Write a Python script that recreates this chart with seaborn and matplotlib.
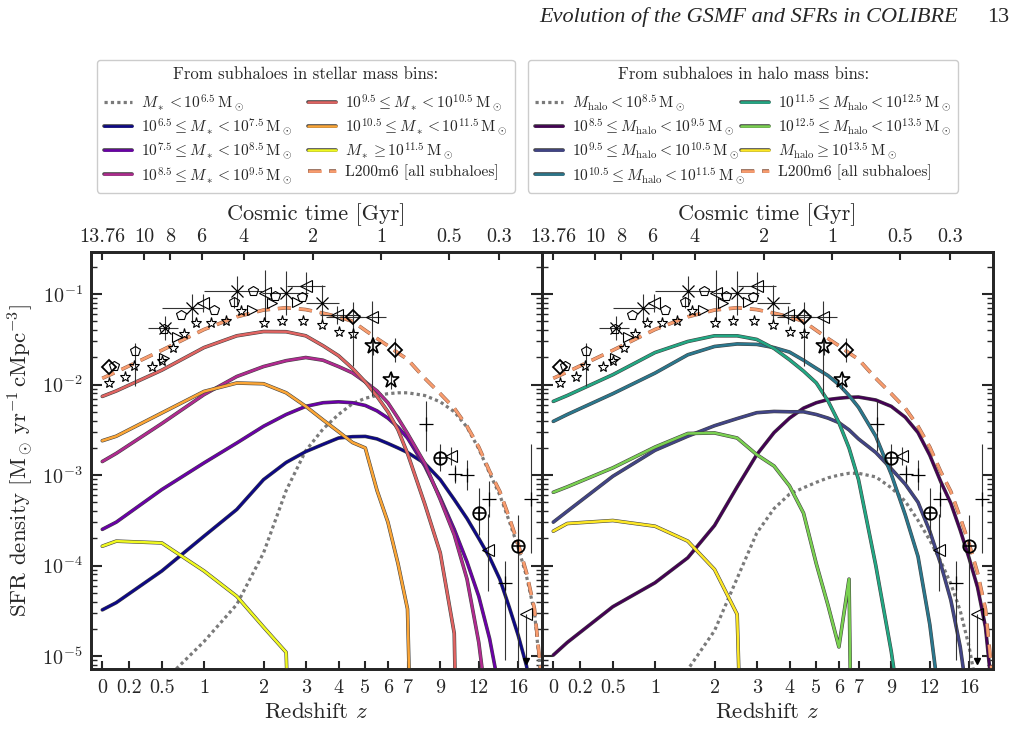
import numpy as np
import matplotlib
matplotlib.use("Agg")
import matplotlib.pyplot as plt
import matplotlib.patheffects as pe
import seaborn as sns

# ---------------- data ----------------
Z_SNAP = [0, 0.1, 0.5, 1, 1.5, 2, 2.5, 3, 3.5, 4, 4.5, 5, 5.5, 6, 6.5, 7,
          8, 9, 10, 11, 12, 13, 14, 15, 16, 17, 18, 19]

# log10 SFR density [Msun/yr/cMpc^3]; -12 marks "no star formation" (falls off the axis)
LOG_ALL = [-1.93, -1.86, -1.62, -1.39, -1.25, -1.175, -1.15, -1.17, -1.21, -1.25, -1.30, -1.40, -1.49, -1.57,
           -1.65, -1.72, -1.93, -2.10, -2.26, -2.46, -2.69, -2.96, -3.18, -3.47, -3.76, -4.08, -4.48, -5.30]

# stellar-mass bins (left panel)
LOG_MS_LT65 = [-5.90, -5.77, -5.30, -4.84, -4.43, -3.86, -3.17, -2.73, -2.49, -2.33, -2.21, -2.15, -2.12, -2.10,
               -2.09, -2.09, -2.12, -2.19, -2.30, -2.47, -2.71, -2.98, -3.22, -3.51, -3.80, -4.12, -4.52, -5.35]
LOG_MS_65_75 = [-4.49, -4.41, -4.06, -3.675, -3.38, -3.05, -2.86, -2.74, -2.66, -2.59, -2.575, -2.572, -2.60, -2.65,
                -2.70, -2.75, -2.87, -3.05, -3.27, -3.48, -3.70, -3.91, -4.15, -4.46, -4.77, -5.11, -5.60, -6.20]
LOG_MS_75_85 = [-3.60, -3.52, -3.16, -2.865, -2.645, -2.46, -2.33, -2.24, -2.20, -2.19, -2.20, -2.23, -2.29, -2.37,
                -2.47, -2.59, -2.90, -3.25, -3.60, -3.96, -4.34, -4.81, -5.40, -6.00, -6.60, -7.20, -7.80, -8.40]
LOG_MS_85_95 = [-2.85, -2.76, -2.43, -2.11, -1.91, -1.80, -1.735, -1.70, -1.73, -1.80, -1.87, -1.97, -2.07, -2.20,
                -2.37, -2.54, -2.87, -3.27, -3.66, -4.15, -4.85, -5.80, -12, -12, -12, -12, -12, -12]
LOG_MS_95_105 = [-2.13, -2.07, -1.84, -1.59, -1.46, -1.413, -1.415, -1.46, -1.57, -1.68, -1.82, -1.97, -2.13, -2.30,
                 -2.50, -2.76, -3.32, -3.86, -4.75, -12, -12, -12, -12, -12, -12, -12, -12, -12]
LOG_MS_105_115 = [-2.62, -2.57, -2.313, -2.075, -1.982, -1.99, -2.09, -2.24, -2.39, -2.52, -2.64, -2.70, -3.17, -3.52,
                  -3.98, -4.48, -12, -12, -12, -12, -12, -12, -12, -12, -12, -12, -12, -12]
LOG_MS_GE115 = [-3.786, -3.73, -3.75, -4.06, -4.34, -4.68, -4.96, -12, -12, -12, -12, -12, -12, -12,
                -12, -12, -12, -12, -12, -12, -12, -12, -12, -12, -12, -12, -12, -12]

# halo-mass bins (right panel)
LOG_MH_LT85 = [-7.0, -6.8, -6.3, -5.7, -5.15, -4.72, -4.14, -3.64, -3.37, -3.21, -3.14, -3.08, -3.03, -3.00,
               -2.98, -2.98, -3.02, -3.14, -3.29, -3.50, -3.72, -3.95, -4.20, -4.50, -4.90, -5.40, -6.00, -6.60]
LOG_MH_85_95 = [-4.99, -4.85, -4.455, -4.19, -3.914, -3.557, -3.13, -2.774, -2.53, -2.37, -2.26, -2.20, -2.165, -2.15,
                -2.14, -2.137, -2.17, -2.24, -2.36, -2.53, -2.78, -3.07, -3.31, -3.61, -3.92, -4.24, -4.68, -5.50]
LOG_MH_95_105 = [-3.52, -3.40, -3.013, -2.726, -2.57, -2.454, -2.375, -2.31, -2.296, -2.30, -2.30, -2.33, -2.37, -2.42,
                 -2.50, -2.60, -2.75, -2.93, -3.10, -3.30, -3.62, -3.98, -4.38, -4.90, -5.60, -6.30, -7.00, -7.70]
LOG_MH_105_115 = [-2.406, -2.33, -2.10, -1.872, -1.67, -1.578, -1.55, -1.555, -1.59, -1.64, -1.73, -1.82, -1.90, -2.00,
                  -2.12, -2.25, -2.57, -2.99, -3.44, -3.90, -4.65, -5.60, -6.50, -7.40, -8.30, -9.20, -10.1, -11.0]
LOG_MH_115_125 = [-2.185, -2.12, -1.89, -1.645, -1.523, -1.46, -1.46, -1.50, -1.60, -1.725, -1.85, -1.98, -2.18, -2.42,
                  -2.70, -3.05, -4.00, -4.95, -6.0, -7.0, -8.0, -9.0, -10.0, -11.0, -12, -12, -12, -12]
LOG_MH_125_135 = [-3.19, -3.13, -2.92, -2.69, -2.54, -2.534, -2.59, -2.774, -2.90, -3.12, -3.42, -3.98, -4.44, -4.90,
                  -4.15, -12, -12, -12, -12, -12, -12, -12, -12, -12, -12, -12, -12, -12]
LOG_MH_GE135 = [-3.62, -3.535, -3.502, -3.565, -3.73, -4.043, -4.54, -12, -12, -12, -12, -12, -12, -12,
                -12, -12, -12, -12, -12, -12, -12, -12, -12, -12, -12, -12, -12, -12]

# observational compilation (same on both panels)
OBS_STAR_Z = [0.05, 0.17, 0.24, 0.40, 0.50, 0.62, 0.74, 0.90, 1.10, 1.33, 1.58, 2.0, 2.41, 2.93, 3.46, 4.0, 4.53]
OBS_STAR_LOG = [-1.98, -1.91, -1.79, -1.81, -1.74, -1.59, -1.44, -1.32, -1.32, -1.30, -1.19, -1.32, -1.30, -1.30,
                -1.34, -1.42, -1.44]
OBS_BIGSTAR_Z = [5.33, 6.15]
OBS_BIGSTAR_LOG = [-1.57, -1.95]
OBS_BIGSTAR_ERR = [0.10, 0.10]
OBS_PENT_Z = [0.08, 0.25, 0.52, 0.71, 1.14, 1.46, 1.80, 2.24, 2.89]
OBS_PENT_LOG = [-1.79, -1.63, -1.39, -1.23, -1.17, -1.09, -0.96, -1.02, -1.03]
OBS_PENT_LO = [0.0, 0.39, 0.0, 0.0, 0.0, 0.06, 0.0, 0.0, 0.0]
OBS_PENT_HI = [0.0, 0.09, 0.0, 0.0, 0.0, 0.06, 0.0, 0.0, 0.0]
OBS_CROSS_Z = [0.53, 0.84, 1.5, 2.49, 3.46]
OBS_CROSS_LOG = [-1.375, -1.155, -0.964, -0.989, -1.093]
OBS_CROSS_ZLO = [0.37, 0.5, 1.0, 1.96, 3.0]
OBS_CROSS_ZHI = [0.68, 1.0, 1.96, 3.07, 4.0]
OBS_CROSS_ERR = [0.13, 0.16, 0.16, 0.24, 0.20]
OBS_LTRI_Z = [0.99, 2.03, 3.02, 3.94, 5.27, 9.75, 12.8, 16.9]
OBS_LTRI_LOG = [-1.10, -0.99, -0.905, -1.23, -1.254, -2.79, -3.83, -4.54]
OBS_LTRI_ZLO = [0.99, 2.03, 2.51, 3.4, 4.5, 9.75, 12.8, 16.9]
OBS_LTRI_ZHI = [0.99, 2.03, 3.56, 4.8, 5.9, 9.75, 12.8, 16.9]
OBS_LTRI_LO = [0.10, 0.31, 0.15, 0.10, 0.87, 0.10, 0.45, 0.52]
OBS_LTRI_HI = [0.10, 0.26, 0.15, 0.10, 0.18, 0.10, 0.40, 0.0]
OBS_RTRI_Z = [0.52, 0.66, 1.77, 2.17, 2.76]
OBS_RTRI_LOG = [-1.71, -1.475, -1.173, -1.093, -1.082]
OBS_DIAM_Z = [0.05, 4.53, 6.35]
OBS_DIAM_LOG = [-1.80, -1.247, -1.615]
OBS_DIAM_ZLO = [0.05, 3.6, 6.35]
OBS_DIAM_ZHI = [0.05, 4.9, 6.35]
OBS_DIAM_LO = [0.0, 0.55, 0.13]
OBS_DIAM_HI = [0.0, 0.16, 0.13]
OBS_OPLUS_Z = [9.0, 12.0, 16.0]
OBS_OPLUS_LOG = [-2.81, -3.42, -3.785]
OBS_OPLUS_LO = [0.15, 0.24, 1.30]
OBS_OPLUS_HI = [0.15, 0.28, 0.34]
OBS_PLUS_Z = [8.05, 10.05, 10.97, 12.9, 14.5, 17.6]
OBS_PLUS_LOG = [-2.44, -2.99, -3.00, -3.26, -4.19, -3.26]
OBS_PLUS_LO = [0.29, 0.10, 0.17, 0.20, 0.85, 0.60]
OBS_PLUS_HI = [0.26, 0.10, 0.17, 0.20, 0.24, 0.60]
OBS_UL_Z = [16.9]
OBS_UL_LOG = [-5.06]

# axes ticks
Z_TICKS = [0, 0.2, 0.5, 1, 2, 3, 4, 5, 6, 7, 9, 12, 16]
Z_TICK_LABELS = ["0", "0.2", "0.5", "1", "2", "3", "4", "5", "6", "7", "9", "12", "16"]
TIME_TICKS_GYR = [13.76, 10, 8, 6, 4, 2, 1, 0.5, 0.3]
TIME_TICK_LABELS = ["13.76", "10", "8", "6", "4", "2", "1", "0.5", "0.3"]
H0, OMEGA_M = 68.1, 0.306

LEFT_LABELS = [
    r"$M_* < 10^{6.5}\,\mathrm{M}_\odot$",
    r"$10^{6.5} \leq M_* < 10^{7.5}\,\mathrm{M}_\odot$",
    r"$10^{7.5} \leq M_* < 10^{8.5}\,\mathrm{M}_\odot$",
    r"$10^{8.5} \leq M_* < 10^{9.5}\,\mathrm{M}_\odot$",
    r"$10^{9.5} \leq M_* < 10^{10.5}\,\mathrm{M}_\odot$",
    r"$10^{10.5} \leq M_* < 10^{11.5}\,\mathrm{M}_\odot$",
    r"$M_* \geq 10^{11.5}\,\mathrm{M}_\odot$",
    "L200m6 [all subhaloes]",
]
RIGHT_LABELS = [
    r"$M_\mathrm{halo} < 10^{8.5}\,\mathrm{M}_\odot$",
    r"$10^{8.5} \leq M_\mathrm{halo} < 10^{9.5}\,\mathrm{M}_\odot$",
    r"$10^{9.5} \leq M_\mathrm{halo} < 10^{10.5}\,\mathrm{M}_\odot$",
    r"$10^{10.5} \leq M_\mathrm{halo} < 10^{11.5}\,\mathrm{M}_\odot$",
    r"$10^{11.5} \leq M_\mathrm{halo} < 10^{12.5}\,\mathrm{M}_\odot$",
    r"$10^{12.5} \leq M_\mathrm{halo} < 10^{13.5}\,\mathrm{M}_\odot$",
    r"$M_\mathrm{halo} \geq 10^{13.5}\,\mathrm{M}_\odot$",
    "L200m6 [all subhaloes]",
]

# ---------------- style ----------------
sns.set_style("ticks")
plt.rcParams.update({
    "font.family": "serif",
    "font.serif": ["cmr10", "DejaVu Serif"],
    "mathtext.fontset": "cm",
    "axes.formatter.use_mathtext": True,
    "axes.unicode_minus": False,
    "axes.linewidth": 2.0,
})

ALL_COLOR = "#f99d6f"
DOT_COLOR = "#7a7a7a"
LEFT_COLORS = [plt.cm.plasma(v) for v in (0.0, 0.2, 0.4, 0.6, 0.8, 1.0)]
RIGHT_COLORS = [plt.cm.viridis(v) for v in (0.0, 0.2, 0.4, 0.6, 0.8, 1.0)]

X_SNAP = np.log10(1.0 + np.asarray(Z_SNAP, float))
XLIM = (-0.0334, np.log10(20.0))
YLIM = (7.13e-6, 0.295)


def lx(z):
    return np.log10(1.0 + np.asarray(z, float))


def draw_curve(ax, logvals, color, kind="solid"):
    y = 10.0 ** np.asarray(logvals, float)
    if kind == "solid":
        kw = dict(color=color, linewidth=1.8, zorder=3,
                  path_effects=[pe.Stroke(linewidth=2.6, foreground="#444444"), pe.Normal()])
    elif kind == "dashed":
        kw = dict(color=color, linewidth=1.9, zorder=4, linestyle=(0, (5.0, 3.0)),
                  path_effects=[pe.Stroke(linewidth=2.6, foreground="#8a5a45"), pe.Normal()])
    else:
        kw = dict(color=color, linewidth=2.3, zorder=3, linestyle=(0, (1.0, 1.0)))
    sns.lineplot(x=X_SNAP, y=y, ax=ax, estimator=None, sort=False, errorbar=None, legend=False, **kw)
    return ax.lines[-1]


def ebar(ax, z, logy, lo=None, hi=None, zlo=None, zhi=None, **kw):
    x = lx(z)
    ly = np.asarray(logy, float)
    y = 10.0 ** ly
    yerr = None
    if lo is not None:
        yerr = [y - 10.0 ** (ly - np.asarray(lo, float)), 10.0 ** (ly + np.asarray(hi, float)) - y]
    xerr = None
    if zlo is not None:
        xerr = [x - lx(zlo), lx(zhi) - x]
    ax.errorbar(x, y, yerr=yerr, xerr=xerr, linestyle="none", ecolor="0.2", elinewidth=0.8,
                capsize=0, zorder=6, **kw)


def draw_obs(ax):
    op = dict(mfc="none", mec="k")
    ebar(ax, OBS_STAR_Z, OBS_STAR_LOG, marker="*", ms=8, mew=0.8, **op)
    ebar(ax, OBS_BIGSTAR_Z, OBS_BIGSTAR_LOG, lo=OBS_BIGSTAR_ERR, hi=OBS_BIGSTAR_ERR,
         marker="*", ms=12, mew=1.2, **op)
    ebar(ax, OBS_PENT_Z, OBS_PENT_LOG, lo=OBS_PENT_LO, hi=OBS_PENT_HI, marker="p", ms=7.5, mew=0.8, **op)
    ebar(ax, OBS_CROSS_Z, OBS_CROSS_LOG, lo=OBS_CROSS_ERR, hi=OBS_CROSS_ERR,
         zlo=OBS_CROSS_ZLO, zhi=OBS_CROSS_ZHI, marker="x", ms=8, mew=0.9, **op)
    ebar(ax, OBS_LTRI_Z, OBS_LTRI_LOG, lo=OBS_LTRI_LO, hi=OBS_LTRI_HI,
         zlo=OBS_LTRI_ZLO, zhi=OBS_LTRI_ZHI, marker="<", ms=9, mew=0.8, **op)
    ebar(ax, OBS_RTRI_Z, OBS_RTRI_LOG, marker=">", ms=7, mew=0.8, **op)
    ebar(ax, OBS_DIAM_Z, OBS_DIAM_LOG, lo=OBS_DIAM_LO, hi=OBS_DIAM_HI,
         zlo=OBS_DIAM_ZLO, zhi=OBS_DIAM_ZHI, marker="D", ms=7.5, mew=1.3, **op)
    ebar(ax, OBS_OPLUS_Z, OBS_OPLUS_LOG, lo=OBS_OPLUS_LO, hi=OBS_OPLUS_HI, marker="o", ms=9, mew=1.3, **op)
    ebar(ax, OBS_OPLUS_Z, OBS_OPLUS_LOG, marker="+", ms=9, mew=1.1, mec="k")
    ebar(ax, OBS_PLUS_Z, OBS_PLUS_LOG, lo=OBS_PLUS_LO, hi=OBS_PLUS_HI, marker="+", ms=10, mew=0.9, mec="k")
    ebar(ax, OBS_UL_Z, OBS_UL_LOG, marker="v", ms=5, mfc="k", mec="k")


def z_of_t(t):
    h = H0 / 977.79
    ol = 1.0 - OMEGA_M
    A = 2.0 / (3.0 * h * np.sqrt(ol))
    a = (np.sinh(np.asarray(t, float) / A) / np.sqrt(ol / OMEGA_M)) ** (2.0 / 3.0)
    return 1.0 / a - 1.0


time_pos = [0.0] + list(lx(z_of_t(TIME_TICKS_GYR[1:])))

# ---------------- figure ----------------
W, H = 1013, 729
fig = plt.figure(figsize=(W / 100, H / 100), dpi=100)
bot = 1 - 669.3 / H
hgt = (669.3 - 251.7) / H
ax1 = fig.add_axes([91 / W, bot, (542 - 91) / W, hgt])
ax2 = fig.add_axes([542 / W, bot, (993 - 542) / W, hgt], sharey=ax1)

panels = [
    (ax1, [LOG_MS_LT65, LOG_MS_65_75, LOG_MS_75_85, LOG_MS_85_95, LOG_MS_95_105, LOG_MS_105_115, LOG_MS_GE115],
     LEFT_COLORS, LEFT_LABELS, "From subhaloes in stellar mass bins:", 97, 0.95),
    (ax2, [LOG_MH_LT85, LOG_MH_85_95, LOG_MH_95_105, LOG_MH_105_115, LOG_MH_115_125, LOG_MH_125_135, LOG_MH_GE135],
     RIGHT_COLORS, RIGHT_LABELS, "From subhaloes in halo mass bins:", 528, -0.3),
]

for ax, series, colors, labels, title, legx, colsp in panels:
    ax.set_yscale("log")
    handles = [draw_curve(ax, series[0], DOT_COLOR, "dotted")]
    for vals, col in zip(series[1:], colors):
        handles.append(draw_curve(ax, vals, col, "solid"))
    handles.append(draw_curve(ax, LOG_ALL, ALL_COLOR, "dashed"))
    draw_obs(ax)

    ax.set_xlim(*XLIM)
    ax.set_ylim(*YLIM)
    ax.set_xticks(lx(Z_TICKS))
    ax.set_xticklabels(Z_TICK_LABELS)
    ax.set_xlabel(r"Redshift $z$", fontsize=16.5, labelpad=4)
    ax.tick_params(axis="x", which="major", direction="in", length=6, width=1.5, labelsize=14.5, pad=7,
                   top=False, bottom=True)
    ax.tick_params(axis="x", which="minor", bottom=False, top=False)
    ax.tick_params(axis="y", which="major", direction="in", length=8, width=1.5, left=True, right=True,
                   labelsize=14.5, pad=6)
    ax.tick_params(axis="y", which="minor", direction="in", length=4.5, width=1.0, left=True, right=True)
    for sp in ax.spines.values():
        sp.set_linewidth(2.0)
        sp.set_visible(True)

    axt = ax.twiny()
    axt.set_xlim(*XLIM)
    axt.set_xticks(time_pos)
    axt.set_xticklabels(TIME_TICK_LABELS)
    axt.tick_params(axis="x", which="major", direction="in", length=6, width=1.5, labelsize=14.5, pad=4)
    axt.tick_params(axis="x", which="minor", top=False, bottom=False)
    axt.set_xlabel("Cosmic time [Gyr]", fontsize=16, labelpad=6)
    for sp in axt.spines.values():
        sp.set_linewidth(2.0)

    leg = fig.legend(handles, labels, loc="upper left", bbox_to_anchor=(legx / W, 1 - 60 / H),
                     ncol=2, title=title, fontsize=11.2, title_fontsize=12, frameon=True, fancybox=True,
                     edgecolor="0.8", framealpha=1.0, handlelength=1.8, handletextpad=0.6,
                     columnspacing=colsp, labelspacing=0.22, borderpad=0.45, borderaxespad=0.0)
    leg.get_frame().set_linewidth(1.0)
    leg._legend_box.sep = 7

ax1.set_ylabel(r"SFR density [$\mathrm{M}_\odot\,\mathrm{yr}^{-1}\,\mathrm{cMpc}^{-3}$]", fontsize=16.5, labelpad=4)
plt.setp(ax2.get_yticklabels(), visible=False)
ax2.set_ylabel("")

fig.text(958 / W, 1 - 22 / H, "Evolution of the GSMF and SFRs in COLIBRE", ha="right", va="baseline",
         fontsize=16, family="Liberation Serif", style="italic")
fig.text(1009 / W, 1 - 22 / H, "13", ha="right", va="baseline", fontsize=16, family="Liberation Serif")

fig.savefig("out.png", dpi=100)
